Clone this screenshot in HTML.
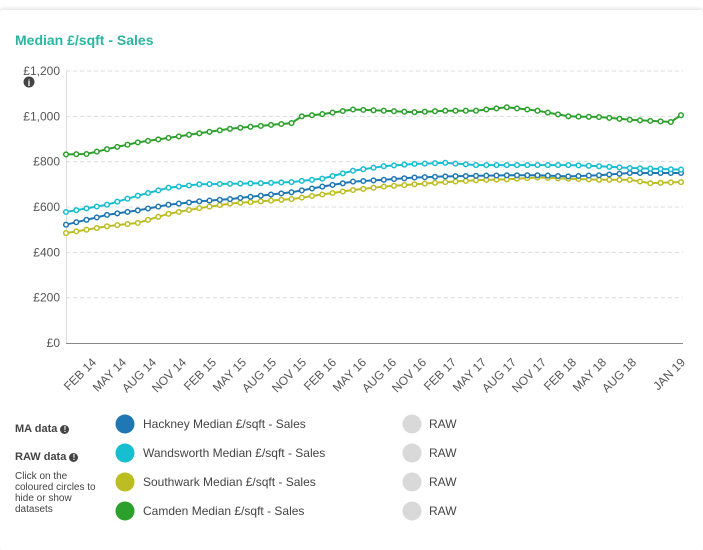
<!DOCTYPE html>
<html><head><meta charset="utf-8"><style>
body{margin:0;width:703px;height:541px;background:#fff;font-family:"Liberation Sans",sans-serif;overflow:hidden;position:relative}
.card{position:absolute;left:0;top:10px;width:703px;height:540px;background:#fff;box-shadow:0 -1px 4px rgba(0,0,0,0.15);border-radius:3px}
.t{position:absolute;white-space:nowrap}
</style></head><body>
<div class="card"></div>
<div class="t" style="left:15px;top:32px;font-size:14px;font-weight:bold;color:#2cb5a0">Median £/sqft - Sales</div>
<svg id="s" width="703" height="541" style="position:absolute;left:0;top:0"></svg>
<div class="t" style="left:15px;top:423px;font-size:11px;font-weight:bold;color:#444">MA data <span style="display:inline-block;width:9px;height:9px;border-radius:50%;background:#444;color:#fff;font-size:8px;text-align:center;line-height:9px">!</span></div>
<div class="t" style="left:15px;top:451px;font-size:11px;font-weight:bold;color:#444">RAW data <span style="display:inline-block;width:9px;height:9px;border-radius:50%;background:#444;color:#fff;font-size:8px;text-align:center;line-height:9px">!</span></div>
<div class="t" style="left:15px;top:471px;font-size:10px;line-height:11px;color:#444;white-space:normal;width:90px">Click on the coloured circles to hide or show datasets</div>
<script>
var s=document.getElementById('s'),h='';
function Y(v){return 343-v*0.22667}
function X(i){return 66+i*10.25}
[200,400,600,800,1000,1200].forEach(function(v){h+='<line x1="66" x2="683" y1="'+Y(v)+'" y2="'+Y(v)+'" stroke="#ddd" stroke-dasharray="4,3"/>';});
h+='<line x1="66.5" x2="66.5" y1="71" y2="343" stroke="#ddd"/><line x1="66" x2="683" y1="343.5" y2="343.5" stroke="#888"/>';
['£0','£200','£400','£600','£800','£1,000','£1,200'].forEach(function(t,i){h+='<text x="60" y="'+(Y(i*200)+4)+'" text-anchor="end" font-size="12" fill="#555">'+t+'</text>';});
h+='<circle cx="29" cy="82" r="5.5" fill="#444"/><text x="29" y="86" text-anchor="middle" font-size="9" font-weight="bold" fill="#fff">i</text>';
var labs=['FEB 14','MAY 14','AUG 14','NOV 14','FEB 15','MAY 15','AUG 15','NOV 15','FEB 16','MAY 16','AUG 16','NOV 16','FEB 17','MAY 17','AUG 17','NOV 17','FEB 18','MAY 18','AUG 18'];
labs.forEach(function(t,k){var x=97+30*k;h+='<text transform="translate('+x+',363) rotate(-45)" text-anchor="end" font-size="12" fill="#555">'+t+'</text>';});
h+='<text transform="translate(686,363) rotate(-45)" text-anchor="end" font-size="12" fill="#555">JAN 19</text>';
function interp(k){var a=[];for(var i=0;i<=60;i++){for(var j=0;j<k.length-1;j++){if(i>=k[j][0]&&i<=k[j+1][0]){var f=(i-k[j][0])/(k[j+1][0]-k[j][0]);a.push(k[j][1]+f*(k[j+1][1]-k[j][1]));break;}}}return a;}
var S=[
['#2ca02c',[[0,832],[2,834],[4,855],[7,885],[10,905],[13,925],[16,945],[19,958],[22,970],[23,1000],[25,1010],[28,1030],[31,1025],[34,1018],[37,1025],[40,1025],[43,1040],[46,1025],[49,1000],[52,997],[55,985],[59,975],[60,1005]]],
['#17becf',[[0,578],[4,610],[7,650],[10,685],[13,700],[19,705],[22,710],[25,725],[28,760],[31,780],[34,790],[37,795],[40,785],[46,785],[49,785],[52,780],[55,772],[60,765]]],
['#1f77b4',[[0,522],[4,565],[7,585],[10,610],[13,625],[16,635],[19,650],[22,665],[25,690],[28,712],[31,720],[34,730],[37,735],[43,740],[46,740],[49,735],[52,740],[55,750],[60,750]]],
['#bcbd22',[[0,485],[4,515],[7,530],[10,570],[13,595],[16,615],[19,625],[22,635],[25,655],[28,675],[31,690],[34,700],[37,710],[40,718],[43,722],[46,730],[49,725],[52,720],[55,720],[57,705],[60,710]]]];
S.reverse().forEach(function(q){var a=interp(q[1]),p='';a.forEach(function(v,i){p+=(i?'L':'M')+X(i).toFixed(1)+','+Y(v).toFixed(1);});
h+='<path d="'+p+'" fill="none" stroke="'+q[0]+'" stroke-width="2"/>';a.forEach(function(v,i){h+='<circle cx="'+X(i).toFixed(1)+'" cy="'+Y(v).toFixed(1)+'" r="2.3" fill="#fff" stroke="'+q[0]+'" stroke-width="1.5"/>';});});
var L=[['#1f77b4','Hackney'],['#17becf','Wandsworth'],['#bcbd22','Southwark'],['#2ca02c','Camden']];
L.forEach(function(l,i){var y=424+i*29;h+='<circle cx="125" cy="'+y+'" r="9.5" fill="'+l[0]+'"/><text x="143" y="'+(y+4)+'" font-size="12" fill="#444">'+l[1]+' Median £/sqft - Sales</text><circle cx="412" cy="'+y+'" r="9.5" fill="#d9d9d9"/><text x="429" y="'+(y+4)+'" font-size="12" fill="#444">RAW</text>';});
s.innerHTML=h;
</script>
</body></html>
